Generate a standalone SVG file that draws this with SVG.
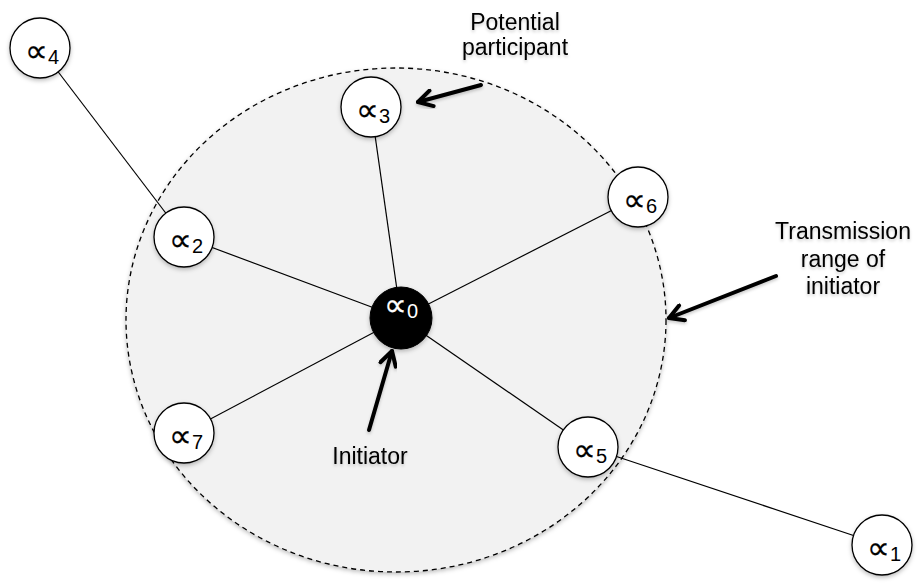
<svg xmlns="http://www.w3.org/2000/svg" width="919" height="584" viewBox="0 0 919 584">
<style>
.node{fill:#fff;stroke:#000;stroke-width:1.3}
.sym{font-family:"DejaVu Sans","Liberation Sans",sans-serif;font-size:32px;fill:#000;stroke:#000;stroke-width:0.25}
.sub{font-family:"Liberation Sans",Arial,sans-serif;font-size:20px;fill:#000}
.sym.inv{fill:#fff;stroke:#fff}
.sub.inv{fill:#fff}
.edge{stroke:#000;stroke-width:1.2;fill:none}
.cap{font-family:"Liberation Sans",Arial,sans-serif;font-size:23px;fill:#000;text-anchor:middle}
.arrow{stroke:#000;stroke-width:4;fill:none;stroke-linecap:round}
</style>
<defs>
<filter id="sh" x="-30%" y="-30%" width="160%" height="160%">
<feDropShadow dx="0" dy="2" stdDeviation="2" flood-color="#000" flood-opacity="0.25"/>
</filter>
<filter id="tsh" x="-20%" y="-40%" width="140%" height="180%">
<feDropShadow dx="0" dy="2" stdDeviation="1.5" flood-color="#000" flood-opacity="0.2"/>
</filter>
<marker id="chev" viewBox="0 0 20 20" refX="18" refY="10" markerWidth="5" markerHeight="5" orient="auto" markerUnits="strokeWidth">
<path d="M4,2 L18,10 L4,18" fill="none" stroke="#000" stroke-width="4" stroke-linecap="round" stroke-linejoin="round"/>
</marker>
</defs>
<rect width="919" height="584" fill="#fff"/>
<g id="range">
<ellipse cx="396" cy="320" rx="270" ry="252" fill="#f2f2f2" stroke="#000" stroke-width="1.3" stroke-dasharray="5,4" filter="url(#sh)"/>
</g>
<g id="connectors">
<line class="edge" x1="401" y1="318" x2="371" y2="107"/>
<line class="edge" x1="401" y1="318" x2="184" y2="237"/>
<line class="edge" x1="401" y1="318" x2="638" y2="197"/>
<line class="edge" x1="401" y1="318" x2="184" y2="433"/>
<line class="edge" x1="401" y1="318" x2="588" y2="447"/>
<line class="edge" x1="184" y1="237" x2="40" y2="48"/>
<line class="edge" x1="588" y1="447" x2="882" y2="545"/>
<line class="arrow" x1="481" y1="85" x2="418" y2="102" marker-end="url(#chev)" filter="url(#tsh)"/>
<line class="arrow" x1="776" y1="276" x2="669" y2="318" marker-end="url(#chev)" filter="url(#tsh)"/>
<line class="arrow" x1="369" y1="430" x2="392" y2="351" marker-end="url(#chev)" filter="url(#tsh)"/>
</g>
<g id="n4"><circle class="node" cx="40" cy="48" r="30" filter="url(#sh)"/><text class="sym" x="25" y="62">∝</text><text class="sub" x="48" y="64">4</text></g>
<g id="n3"><circle class="node" cx="371" cy="107" r="30" filter="url(#sh)"/><text class="sym" x="356" y="121">∝</text><text class="sub" x="379" y="123">3</text></g>
<g id="n6"><circle class="node" cx="638" cy="197" r="30" filter="url(#sh)"/><text class="sym" x="623" y="211">∝</text><text class="sub" x="646" y="213">6</text></g>
<g id="n2"><circle class="node" cx="184" cy="237" r="30" filter="url(#sh)"/><text class="sym" x="169" y="251">∝</text><text class="sub" x="192" y="253">2</text></g>
<g id="n0"><circle cx="401" cy="318" r="31" fill="#000" stroke="#000" filter="url(#sh)"/><text class="sym inv" x="384" y="316">∝</text><text class="sub inv" x="407" y="318">0</text></g>
<g id="n7"><circle class="node" cx="184" cy="433" r="30" filter="url(#sh)"/><text class="sym" x="169" y="447">∝</text><text class="sub" x="192" y="449">7</text></g>
<g id="n5"><circle class="node" cx="588" cy="447" r="30" filter="url(#sh)"/><text class="sym" x="573" y="461">∝</text><text class="sub" x="596" y="463">5</text></g>
<g id="n1"><circle class="node" cx="882" cy="545" r="30" filter="url(#sh)"/><text class="sym" x="867" y="559">∝</text><text class="sub" x="890" y="561">1</text></g>
<g id="captions" filter="url(#tsh)">
<text class="cap" x="515" y="30">Potential</text>
<text class="cap" x="515" y="55">participant</text>
<text class="cap" x="843" y="239">Transmission</text>
<text class="cap" x="843" y="267">range of</text>
<text class="cap" x="843" y="294">initiator</text>
<text class="cap" x="370" y="464">Initiator</text>
</g>
</svg>
